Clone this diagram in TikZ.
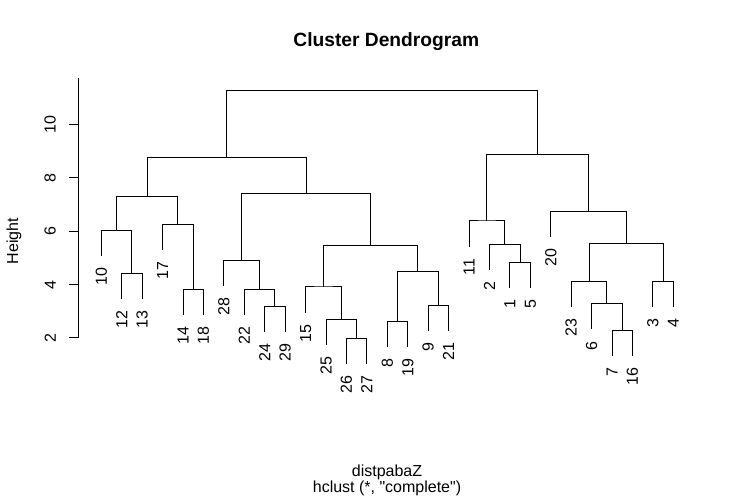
\documentclass[tikz,border=0pt]{standalone}
\usepackage{fontspec}
\setmainfont{Liberation Sans}
\newfontfamily\plainfont{Liberation Sans}
\newcommand\labfont{\fontsize{16}{19}\selectfont}
\newcommand\ttlfont{\fontsize{19.2}{23}\selectfont\bfseries}
\tikzset{
  branch/.style={line width=1pt, line cap=rect},
  leaflab/.style={yshift=-12pt, rotate=90, anchor=east, inner sep=0pt, font=\labfont},
  ticklab/.style={rotate=90, anchor=south, inner sep=0pt, font=\labfont},
  txt/.style={inner sep=0pt, anchor=base, font=\labfont},
}
\begin{document}
\begin{tikzpicture}[x=1pt,y=-1pt]
\path[use as bounding box, fill=white] (0,0) rectangle (737,502);
% leaf ends
\foreach \nm/\x/\y in {10/101.3/255.6, 12/121.73/298.6, 13/142.16/298.6, 17/162.59/249.6,
  14/183.02/314.6, 18/203.45/314.6, 28/223.88/285.6, 22/244.31/314.6, 24/264.74/331.6,
  29/285.17/331.6, 15/305.6/312.3, 25/326.03/344.6, 26/346.46/363.6, 27/366.89/363.6,
  8/387.32/346.6, 19/407.75/346.6, 9/428.18/330.6, 21/448.61/330.6, 11/469.04/246.3,
  2/489.47/269.6, 1/509.9/287.6, 5/530.33/287.6, 20/550.76/236.6, 23/571.19/306.6,
  6/591.62/329, 7/612.05/355.6, 16/632.48/355.6, 3/652.91/306.6, 4/673.34/306.6}
{
  \coordinate (e\nm) at (\x,\y);
  \node[leaflab] (n\nm) at (e\nm) {\nm};
}
% merge points
\coordinate (A) at (131.95,273.3);
\coordinate (B) at (116.62,230.3);
\coordinate (C) at (193.24,289.3);
\coordinate (D) at (177.91,224.3);
\coordinate (E) at (147.27,196.3);
\coordinate (F) at (274.96,306.3);
\coordinate (G) at (259.63,289.3);
\coordinate (H) at (241.76,260.3);
\coordinate (I) at (356.68,338.3);
\coordinate (J) at (341.35,319.3);
\coordinate (K) at (323.48,287.0);
\coordinate (L) at (397.54,321.3);
\coordinate (M) at (438.40,305.3);
\coordinate (N) at (417.97,271.3);
\coordinate (O) at (370.72,245.3);
\coordinate (P) at (306.24,193.3);
\coordinate (Q) at (226.76,157.3);
\coordinate (R) at (520.12,262.3);
\coordinate (S) at (504.79,244.3);
\coordinate (T) at (486.92,221.0);
\coordinate (U) at (622.27,330.3);
\coordinate (V) at (606.94,303.7);
\coordinate (W) at (589.07,281.3);
\coordinate (X) at (663.13,281.3);
\coordinate (Y) at (626.10,243.7);
\coordinate (Z) at (588.43,211.3);
\coordinate (AA) at (537.68,154.3);
\coordinate (ROOT) at (382.22,90.3);
% branches
\draw[branch] (e12) |- (A) -| (e13);
\draw[branch] (e10) |- (B) -| (A);
\draw[branch] (e14) |- (C) -| (e18);
\draw[branch] (e17) |- (D) -| (C);
\draw[branch] (B) |- (E) -| (D);
\draw[branch] (e24) |- (F) -| (e29);
\draw[branch] (e22) |- (G) -| (F);
\draw[branch] (e28) |- (H) -| (G);
\draw[branch] (e26) |- (I) -| (e27);
\draw[branch] (e25) |- (J) -| (I);
\draw[branch] (e15) |- (K) -| (J);
\draw[branch] (e8) |- (L) -| (e19);
\draw[branch] (e9) |- (M) -| (e21);
\draw[branch] (L) |- (N) -| (M);
\draw[branch] (K) |- (O) -| (N);
\draw[branch] (H) |- (P) -| (O);
\draw[branch] (E) |- (Q) -| (P);
\draw[branch] (e1) |- (R) -| (e5);
\draw[branch] (e2) |- (S) -| (R);
\draw[branch] (e11) |- (T) -| (S);
\draw[branch] (e7) |- (U) -| (e16);
\draw[branch] (e6) |- (V) -| (U);
\draw[branch] (e23) |- (W) -| (V);
\draw[branch] (e3) |- (X) -| (e4);
\draw[branch] (W) |- (Y) -| (X);
\draw[branch] (e20) |- (Z) -| (Y);
\draw[branch] (T) |- (AA) -| (Z);
\draw[branch] (Q) |- (ROOT) -| (AA);
% axis
\coordinate (axbot) at (78.3,338);
\coordinate (axtop) at (78.3,78.3);
\draw[branch] (axbot) -- (axtop);
\foreach \v/\y in {2/338, 4/284.6, 6/231.2, 8/177.7, 10/124.3}{
  \draw[branch] (78.3,\y) -- (69,\y);
  \node[ticklab] (t\v) at (56,\y) {\v};
}
\node[ticklab, anchor=base] (ylab) at (18,241) {Height};
% titles
\node[txt, font=\ttlfont] (title) at (386.3,46.7) {Cluster Dendrogram};
\node[txt] (sub1) at (387,476.5) {distpabaZ};
\node[txt, font=\plainfont\labfont] (sub2) at (387,493) {hclust (*, "complete")};
\end{tikzpicture}
\end{document}
